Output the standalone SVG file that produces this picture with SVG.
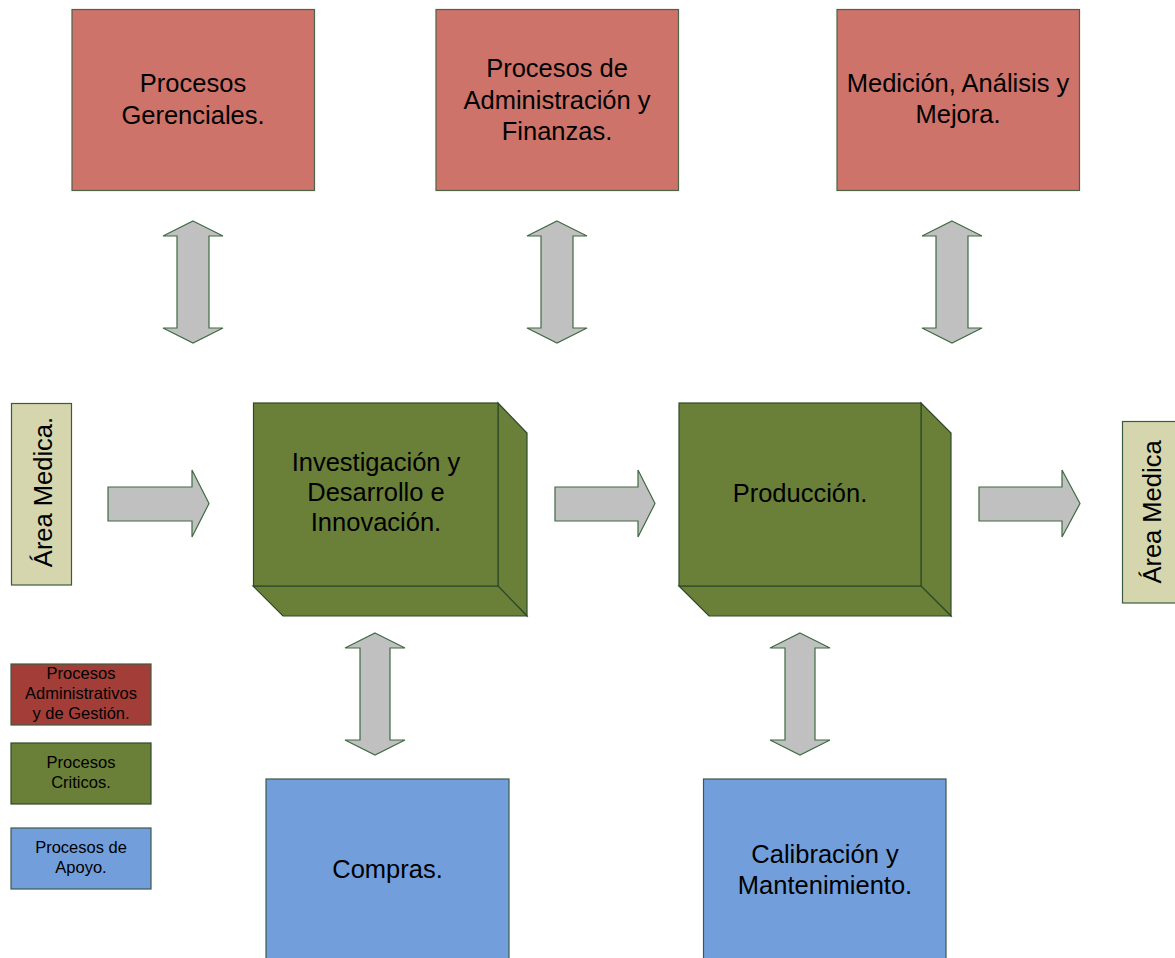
<svg xmlns="http://www.w3.org/2000/svg" width="1175" height="958" viewBox="0 0 1175 958">
<style>
text{font-family:"Liberation Sans",Arial,sans-serif;fill:#000;text-anchor:middle}
.big{font-size:25.5px}
.leg{font-size:16.5px}
.red{fill:#cd736a;stroke:#4d6246;stroke-width:1.2}
.grn{fill:#6a7f38;stroke:#2d4a2a;stroke-width:1.2}
.blu{fill:#729fdb;stroke:#3d5a48;stroke-width:1.2}
.lred{fill:#a23e37;stroke:#3d5a40;stroke-width:1.2}
.area{fill:#d5d6ad;stroke:#3d5a40;stroke-width:1.2}
.arr{fill:#c0c0c0;stroke:#3f6a42;stroke-width:1.2;stroke-linejoin:miter}
</style>
<rect width="1175" height="958" fill="#fff"/>
<g id="connectors">
<polygon class="arr" points="193,221 223,236 209,236 209,328 223,328 193,343 163,328 177,328 177,236 163,236"/>
<polygon class="arr" points="557,221 587,236 573,236 573,328 587,328 557,343 527,328 541,328 541,236 527,236"/>
<polygon class="arr" points="952,221 982,236 968,236 968,328 982,328 952,343 922,328 936,328 936,236 922,236"/>
<polygon class="arr" points="375,633 405,648 390,648 390,740 405,740 375,755 345,740 360,740 360,648 345,648"/>
<polygon class="arr" points="800,633 830,648 815,648 815,740 830,740 800,755 770,740 785,740 785,648 770,648"/>
<polygon class="arr" points="108,487 192,487 192,470 209,503.5 192,537 192,521 108,521"/>
<polygon class="arr" points="555,487 638,487 638,470 655,503.5 638,537 638,521 555,521"/>
<polygon class="arr" points="979,487 1062,487 1062,470 1080,503.5 1062,537 1062,521 979,521"/>
</g>
<g id="gerenciales">
<rect class="red" x="72" y="9.5" width="242.5" height="181"/>
<text class="big" x="193" y="92">Procesos</text>
<text class="big" x="193" y="124">Gerenciales.</text>
</g>
<g id="administracion">
<rect class="red" x="436" y="9.5" width="242.5" height="181"/>
<text class="big" x="557" y="77">Procesos de</text>
<text class="big" x="557" y="109">Administración y</text>
<text class="big" x="557" y="140">Finanzas.</text>
</g>
<g id="medicion">
<rect class="red" x="837" y="9.5" width="242.5" height="181"/>
<text class="big" x="958" y="92">Medición, Análisis y</text>
<text class="big" x="958" y="123">Mejora.</text>
</g>
<g id="area-izq">
<rect class="area" x="11.5" y="403.5" width="60" height="181.5"/>
<text class="big" transform="translate(52,492) rotate(-90)">Área Medica.</text>
</g>
<g id="investigacion">
<polygon class="grn" points="498,403 527,433 527,616 498,586"/>
<polygon class="grn" points="253,586 498,586 527,616 283,616"/>
<rect class="grn" x="253.5" y="403" width="244.5" height="183"/>
<text class="big" x="376" y="471">Investigación y</text>
<text class="big" x="376" y="501">Desarrollo e</text>
<text class="big" x="376" y="531">Innovación.</text>
</g>
<g id="produccion">
<polygon class="grn" points="921,403 951,433 951,616 921,586"/>
<polygon class="grn" points="679,586 921,586 951,616 709,616"/>
<rect class="grn" x="679" y="403" width="242" height="183"/>
<text class="big" x="800" y="502">Producción.</text>
</g>
<g id="area-der">
<rect class="area" x="1122.5" y="421.5" width="60" height="181.5"/>
<text class="big" transform="translate(1161,512) rotate(-90)">Área Medica</text>
</g>
<g id="compras">
<rect class="blu" x="266" y="779" width="243" height="190"/>
<text class="big" x="387.5" y="878">Compras.</text>
</g>
<g id="calibracion">
<rect class="blu" x="703.5" y="779" width="242.5" height="190"/>
<text class="big" x="825" y="863">Calibración y</text>
<text class="big" x="825" y="894">Mantenimiento.</text>
</g>
<g id="leyenda-admin">
<rect class="lred" x="11" y="664" width="140" height="61"/>
<text class="leg" x="81" y="679">Procesos</text>
<text class="leg" x="81" y="699">Administrativos</text>
<text class="leg" x="81" y="719">y de Gestión.</text>
</g>
<g id="leyenda-criticos">
<rect class="grn" x="11" y="743" width="140" height="61"/>
<text class="leg" x="81" y="768">Procesos</text>
<text class="leg" x="81" y="788">Criticos.</text>
</g>
<g id="leyenda-apoyo">
<rect class="blu" x="11" y="828" width="140" height="61"/>
<text class="leg" x="81" y="853">Procesos de</text>
<text class="leg" x="81" y="873">Apoyo.</text>
</g>
</svg>
